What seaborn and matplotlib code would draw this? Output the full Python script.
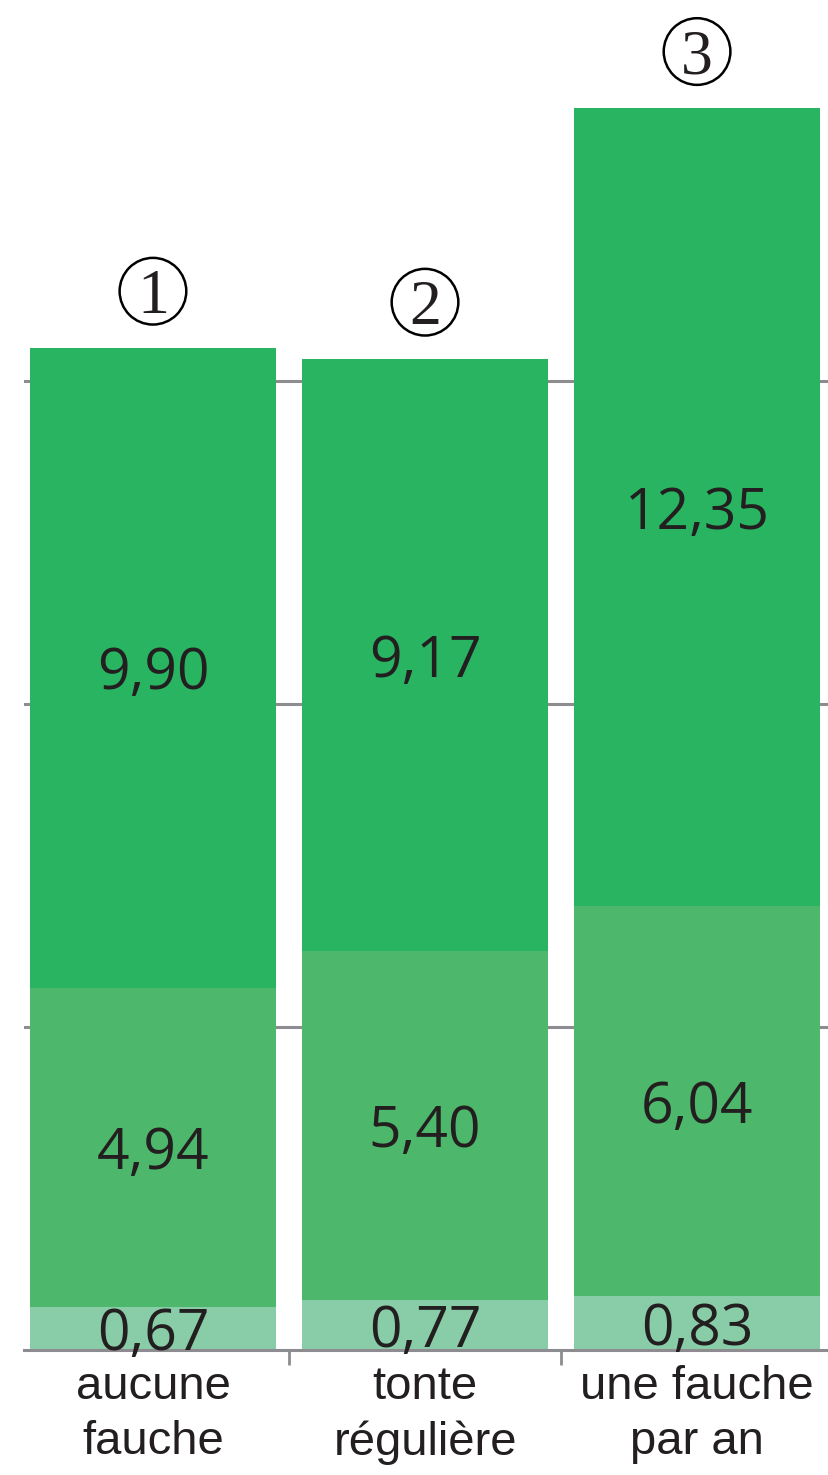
import numpy as np
import pandas as pd
import matplotlib
matplotlib.use("Agg")
import matplotlib.pyplot as plt
import seaborn as sns

# données
categories = ["aucune\nfauche", "tonte\nrégulière", "une fauche\npar an"]
numeros = ["1", "2", "3"]
bas = [0.67, 0.77, 0.83]
milieu = [4.94, 5.40, 6.04]
haut = [9.90, 9.17, 12.35]
grille = [5, 10, 15]

COUL_HAUT = "#29B462"
COUL_MILIEU = "#4DB86B"
COUL_BAS = "#89CDA8"
GRIS = "#8C8C91"
TEXTE = "#231F20"

sns.set_theme(style="white")
plt.rcParams["font.family"] = ["Liberation Sans", "DejaVu Sans"]

df = pd.DataFrame({"cat": categories, "bas": bas, "milieu": milieu, "haut": haut})
df["c1"] = df["bas"]
df["c2"] = df["bas"] + df["milieu"]
df["c3"] = df["c2"] + df["haut"]

W, H = 829, 1475
fig = plt.figure(figsize=(W / 100, H / 100), dpi=100)
ax = fig.add_axes([24 / W, (H - 1350) / H, (W - 24) / W, 1350 / H])

largeur = 246 / 272
# barres empilées : on dessine les cumuls du plus grand au plus petit
for col, coul in [("c3", COUL_HAUT), ("c2", COUL_MILIEU), ("c1", COUL_BAS)]:
    sns.barplot(data=df, x="cat", y=col, color=coul, saturation=1,
                width=largeur, errorbar=None, linewidth=0, ax=ax, zorder=2)

ax.set_xlim(-0.474, 2.485)
ax.set_ylim(0, 1350 / 64.6)
ax.set_xlabel("")
ax.set_ylabel("")
ax.set_yticks(grille)
ax.set_yticklabels([])
ax.tick_params(axis="y", length=0)
ax.grid(axis="y", color=GRIS, linewidth=2.2, zorder=0)
ax.set_axisbelow(True)

for s in ["left", "right", "top"]:
    ax.spines[s].set_visible(False)
ax.spines["bottom"].set_color(GRIS)
ax.spines["bottom"].set_linewidth(2.2)
ax.spines["bottom"].set_zorder(3)

ax.set_xticks(range(len(categories)))
ax.set_xticklabels(categories, fontsize=34, color=TEXTE, linespacing=1.32)
ax.tick_params(axis="x", which="major", length=0, pad=11)
ax.set_xticks([0.5, 1.5], minor=True)
ax.tick_params(axis="x", which="minor", bottom=True, length=11, width=2,
               color=GRIS, direction="out")

def fmt(v):
    return f"{v:.2f}".replace(".", ",")

for i in range(len(categories)):
    segs = [(0, bas[i]), (bas[i], bas[i] + milieu[i]),
            (bas[i] + milieu[i], bas[i] + milieu[i] + haut[i])]
    for (b, t), v in zip(segs, [bas[i], milieu[i], haut[i]]):
        ax.text(i, (b + t) / 2, fmt(v), ha="center", va="center_baseline",
                fontsize=41, color=TEXTE, family="Open Sans", zorder=4,
                clip_on=False)

# numéros cerclés au-dessus des barres
totaux = df["c3"].to_numpy()
ypos = totaux + 0.88
ax.scatter(range(len(categories)), ypos, s=48 ** 2, facecolors="none",
           edgecolors="black", linewidths=1.8, zorder=5, clip_on=False)
for i, n in enumerate(numeros):
    ax.annotate(n, (i, ypos[i]), xytext=(0, -15.5), textcoords="offset points",
                ha="center", va="baseline", fontsize=46, color=TEXTE,
                family="Liberation Serif", annotation_clip=False)

fig.savefig("out.png", dpi=100)
